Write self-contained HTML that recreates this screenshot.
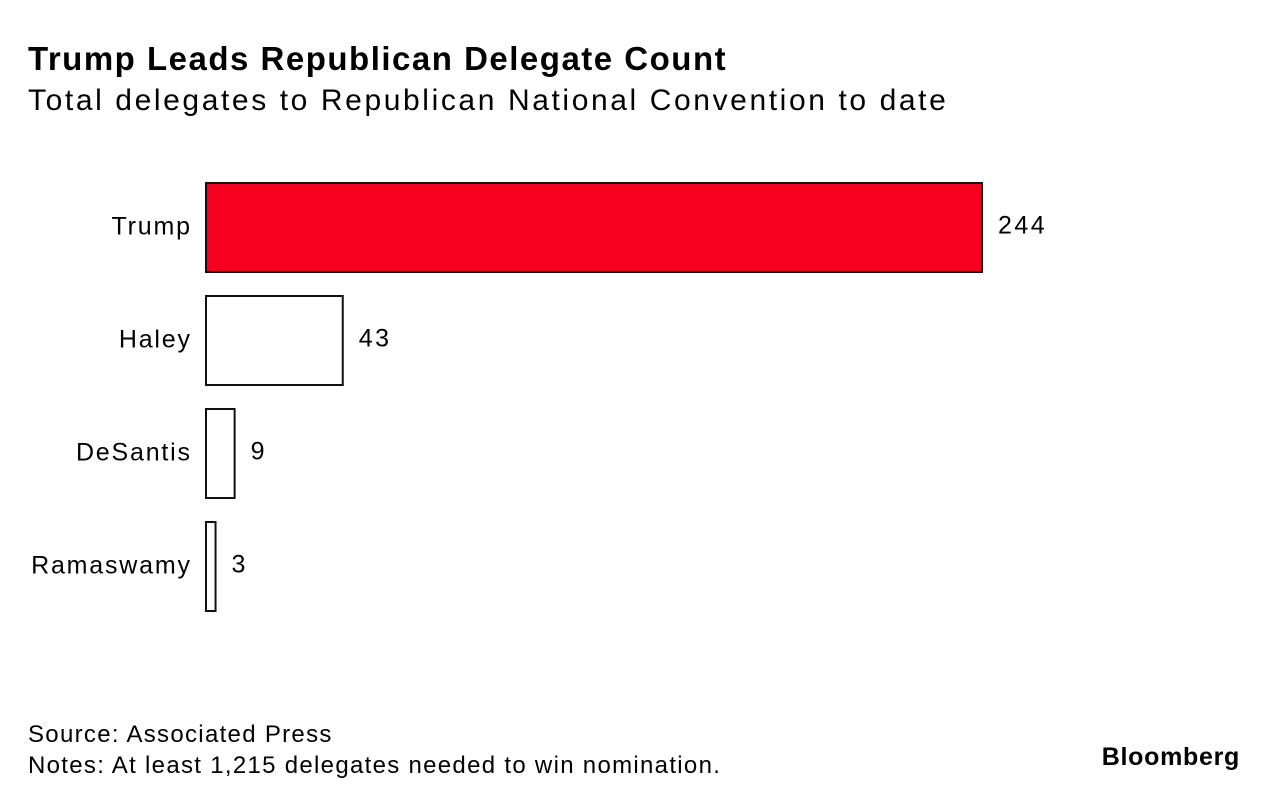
<!DOCTYPE html>
<html><head><meta charset="utf-8"><style>
body{margin:0;background:#fff;width:1280px;height:804px;overflow:hidden;font-family:"Liberation Sans",sans-serif;color:#000}
.t{position:absolute;left:28px;top:40px;font-size:33px;font-weight:bold;letter-spacing:1.5px}
.s{position:absolute;left:28px;top:84px;font-size:30px;letter-spacing:2.6px}
.f{position:absolute;left:28px;font-size:24px;letter-spacing:1.3px}
.b{position:absolute;right:40px;top:743px;font-size:25px;font-weight:bold;letter-spacing:0.7px}
</style></head><body>
<div class="t">Trump Leads Republican Delegate Count</div>
<div class="s">Total delegates to Republican National Convention to date</div>
<svg id="c" width="1280" height="804" style="position:absolute;left:0;top:0"></svg>
<div class="f" style="top:721px">Source: Associated Press</div>
<div class="f" style="top:752px">Notes: At least 1,215 delegates needed to win nomination.</div>
<div class="b">Bloomberg</div>
<script>
const categories=["Trump","Haley","DeSantis","Ramaswamy"];
const values=[244,43,9,3];
const colors=["#f5001f","#fff","#fff","#fff"];
const svg=document.getElementById('c');
const NS="http://www.w3.org/2000/svg";
const x0=206,pxPer=776/244,top0=183,step=113,bh=89;
const xs=v=>v*pxPer;
categories.forEach((c,i)=>{
  const y=top0+i*step;
  const r=document.createElementNS(NS,'rect');
  r.setAttribute('x',x0);r.setAttribute('y',y);
  r.setAttribute('width',Math.max(xs(values[i]),1));r.setAttribute('height',bh);
  r.setAttribute('fill',colors[i]);r.setAttribute('stroke','#111');r.setAttribute('stroke-width','2');
  
  
  svg.appendChild(r);
  const l=document.createElementNS(NS,'text');
  l.setAttribute('x',191.8);l.setAttribute('y',y+bh/2+7);l.setAttribute('text-anchor','end');
  l.setAttribute('font-size','25');l.setAttribute('font-family','Liberation Sans, sans-serif');
  l.setAttribute('letter-spacing','1.8');
  l.textContent=c;
  
  
  svg.appendChild(l);
  const v=document.createElementNS(NS,'text');
  v.setAttribute('x',x0+xs(values[i])+16);v.setAttribute('y',y+bh/2+6);
  v.setAttribute('font-size','25');v.setAttribute('font-family','Liberation Sans, sans-serif');
  v.setAttribute('letter-spacing','2.5');
  v.textContent=values[i];
  
  
  svg.appendChild(v);
});
</script>
</body></html>
